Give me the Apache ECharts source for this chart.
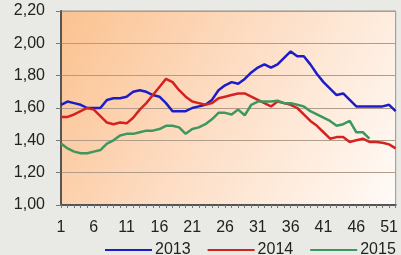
<!DOCTYPE html>
<html>
<head>
<meta charset="utf-8">
<script src="https://cdn.jsdelivr.net/npm/echarts@6/dist/echarts.min.js"></script>
<style>
  html, body { margin: 0; padding: 0; background: #e9eae5; }
  #chart { width: 401px; height: 255px; }
</style>
</head>
<body>
<div id="chart"></div>
<script>
// weeks 1..52
const weeks = [];
for (let i = 1; i <= 52; i++) weeks.push(String(i));

const yTicks = [1.0, 1.2, 1.4, 1.6, 1.8, 2.0, 2.2];

const s2013 = [1.62, 1.64, 1.63, 1.62, 1.60, 1.60, 1.60, 1.65, 1.66, 1.66,
  1.67, 1.70, 1.71, 1.70, 1.68, 1.67, 1.63, 1.58, 1.58, 1.58,
  1.60, 1.61, 1.62, 1.65, 1.71, 1.74, 1.76, 1.75, 1.78, 1.82,
  1.85, 1.87, 1.85, 1.87, 1.91, 1.95, 1.92, 1.92, 1.87, 1.81,
  1.76, 1.72, 1.68, 1.69, 1.65, 1.61, 1.61, 1.61, 1.61, 1.61,
  1.62, 1.58];

const s2014 = [1.545, 1.545, 1.56, 1.58, 1.60, 1.59, 1.55, 1.51, 1.50, 1.51,
  1.505, 1.54, 1.59, 1.63, 1.68, 1.73, 1.78, 1.76, 1.71, 1.67,
  1.64, 1.63, 1.62, 1.63, 1.66, 1.67, 1.68, 1.69, 1.69, 1.67,
  1.65, 1.63, 1.61, 1.64, 1.63, 1.62, 1.60, 1.56, 1.52, 1.49,
  1.45, 1.41, 1.42, 1.42, 1.39, 1.40, 1.41, 1.39, 1.39, 1.385,
  1.375, 1.35];

const s2015 = [1.38, 1.35, 1.33, 1.32, 1.32, 1.33, 1.34, 1.38, 1.40, 1.43,
  1.44, 1.44, 1.45, 1.46, 1.46, 1.47, 1.49, 1.49, 1.48, 1.44,
  1.47, 1.48, 1.50, 1.53, 1.57, 1.57, 1.56, 1.59, 1.555, 1.62,
  1.64, 1.64, 1.64, 1.645, 1.63, 1.63, 1.62, 1.61, 1.58, 1.56,
  1.54, 1.52, 1.49, 1.50, 1.52, 1.45, 1.45, 1.41];

const chart = echarts.init(document.getElementById('chart'));

function lineSeries(name, data, color) {
  return {
    name: name,
    type: 'line',
    data: data,
    symbol: 'none',
    smooth: false,
    lineStyle: { color: color, width: 2.5 },
    itemStyle: { color: color }
  };
}

chart.setOption({
  backgroundColor: '#e9eae5',
  animation: false,
  textStyle: { fontFamily: 'Liberation Sans, Arial, sans-serif' },
  grid: {
    left: 61, right: 0, top: 11, bottom: 50,
    show: true,
    borderColor: '#9a9288',
    borderWidth: 1,
    backgroundColor: {
      type: 'linear', x: 0, y: 0, x2: 1, y2: 1,
      colorStops: [
        { offset: 0, color: '#fbc290' },
        { offset: 0.45, color: '#fddcc2' },
        { offset: 1, color: '#fffbf8' }
      ]
    }
  },
  legend: {
    top: 237,
    left: 100,
    itemWidth: 47,
    itemHeight: 2,
    itemGap: 17,
    icon: 'rect',
    textStyle: { fontSize: 16, color: '#222', padding: [0, 0, 0, -2] },
    data: ['2013', '2014', '2015']
  },
  xAxis: {
    type: 'category',
    data: weeks,
    boundaryGap: false,
    axisLine: { lineStyle: { color: '#555', width: 2 } },
    axisTick: { show: true, interval: 0, length: 3, lineStyle: { color: '#777' } },
    axisLabel: { interval: 4, fontSize: 16, color: '#222', margin: 15 },
    splitLine: { show: false }
  },
  yAxis: {
    type: 'value',
    min: yTicks[0],
    max: yTicks[yTicks.length - 1],
    interval: 0.2,
    axisLine: { show: true, lineStyle: { color: '#555', width: 2 } },
    axisTick: { show: true, length: 5, lineStyle: { color: '#777' } },
    axisLabel: {
      fontSize: 16, color: '#222', margin: 16,
      formatter: v => v.toFixed(2).replace('.', ',')
    },
    splitLine: { show: true, lineStyle: { color: '#b09c88', width: 1 } }
  },
  series: [
    lineSeries('2013', s2013, '#1c1cc8'),
    lineSeries('2014', s2014, '#d42222'),
    lineSeries('2015', s2015, '#3d9860')
  ]
});
</script>
</body>
</html>
